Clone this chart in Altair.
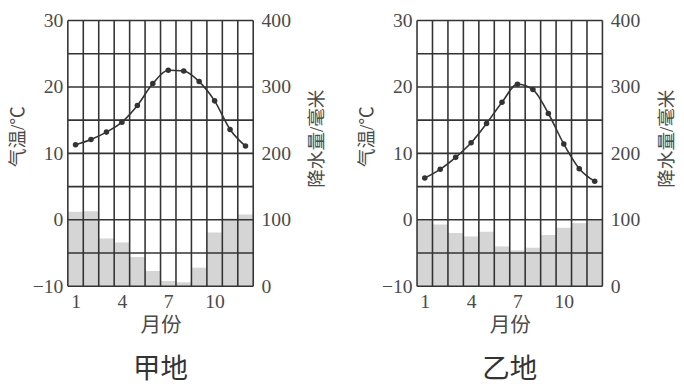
import altair as alt
import pandas as pd

months = list(range(1, 13))
temp_jia = [11.3, 12.1, 13.2, 14.7, 17.2, 20.5, 22.5, 22.4, 20.8, 17.9, 13.6, 11.1]
prec_jia = [112, 113, 72, 66, 44, 23, 8, 6, 28, 81, 102, 108]
temp_yi = [6.3, 7.6, 9.4, 11.6, 14.5, 17.7, 20.4, 19.6, 16.0, 11.4, 7.7, 5.8]
prec_yi = [99, 93, 80, 75, 82, 60, 54, 58, 77, 88, 95, 99]
x_bounds = [0.5 + i for i in range(13)]
y_grid = list(range(-10, 31, 5))
x_labels = [1, 4, 7, 10]
temp_labels = [-10, 0, 10, 20, 30]
prec_labels = [0, 100, 200, 300, 400]

NUM_FONT = "Liberation Serif"
CJK_FONT = "'Liberation Serif', 'Noto Sans CJK SC'"
TXT = "#4a4a4a"
LINE = "#333333"


def panel(temps, precs, name):
    df = pd.DataFrame({
        "month": months,
        "temp": temps,
        "prec": precs,
        "m0": [m - 0.5 for m in months],
        "m1": [m + 0.5 for m in months],
    })
    xscale = alt.Scale(domain=[0.5, 12.5], nice=False, zero=False)
    tscale = alt.Scale(domain=[-10, 30], nice=False, zero=False)
    pscale = alt.Scale(domain=[0, 400], nice=False)
    xaxis = alt.Axis(values=x_labels, grid=False, ticks=False, domain=False,
                     title="月份", labelFont=NUM_FONT, labelFontSize=20,
                     labelColor=TXT, labelPadding=6, titleFont=CJK_FONT,
                     titleFontSize=21, titleFontWeight="normal",
                     titleColor=TXT, titlePadding=3)
    taxis = alt.Axis(orient="left", values=temp_labels, grid=False, ticks=False,
                     domain=False, title="气温/℃", labelFont=NUM_FONT,
                     labelFontSize=20, labelColor=TXT, labelPadding=5,
                     labelExpr="datum.value < 0 ? '\u2212' + abs(datum.value) : datum.label",
                     titleFont=CJK_FONT, titleFontSize=19, titleY=118,
                     titleFontWeight="normal", titleColor=TXT, titlePadding=5)
    paxis = alt.Axis(orient="right", values=prec_labels, grid=False, ticks=False,
                     domain=False, title="降水量/毫米", titleAngle=270,
                     titleBaseline="top", titleY=120,
                     labelFont=NUM_FONT, labelFontSize=20, labelColor=TXT,
                     labelPadding=8, titleFont=CJK_FONT, titleFontSize=19,
                     titleFontWeight="normal", titleColor=TXT, titlePadding=18)

    bars = alt.Chart(df).mark_rect(color="#d5d5d5").encode(
        x=alt.X("m0:Q", scale=xscale, axis=xaxis),
        x2="m1",
        y=alt.Y("prec:Q", scale=pscale, axis=paxis),
        y2=alt.datum(0),
    )
    hrules = alt.Chart(pd.DataFrame({"g": y_grid})).mark_rule(
        color=LINE, strokeWidth=1.6).encode(
        y=alt.Y("g:Q", scale=tscale, axis=None))
    vrules = alt.Chart(pd.DataFrame({"b": x_bounds})).mark_rule(
        color=LINE, strokeWidth=1.6).encode(
        x=alt.X("b:Q", scale=xscale, axis=xaxis))
    line = alt.Chart(df).mark_line(interpolate="monotone", color=LINE,
                                   strokeWidth=1.6).encode(
        x=alt.X("month:Q", scale=xscale, axis=xaxis),
        y=alt.Y("temp:Q", scale=tscale, axis=taxis))
    pts = alt.Chart(df).mark_circle(size=32, color=LINE, opacity=1).encode(
        x=alt.X("month:Q", scale=xscale, axis=xaxis),
        y=alt.Y("temp:Q", scale=tscale, axis=None))
    return alt.layer(bars, hrules, vrules, line, pts).resolve_scale(
        y="independent").properties(
        width=189, height=271,
        title=alt.TitleParams(name, orient="bottom", font=CJK_FONT,
                              fontSize=28, fontWeight="normal", color="#333",
                              offset=22))


chart = alt.hconcat(panel(temp_jia, prec_jia, "甲地"),
                    panel(temp_yi, prec_yi, "乙地"),
                    spacing=31).configure_view(stroke=None).properties(
    padding={"left": 0, "top": -1, "right": 0, "bottom": 0})

chart.save("out.html", embed_options={"renderer": "svg", "actions": False})
